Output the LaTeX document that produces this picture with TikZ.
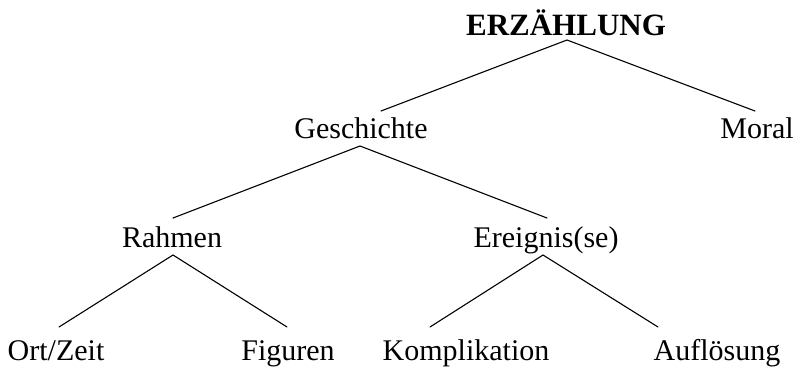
\documentclass[tikz,border=0pt]{standalone}
\usepackage{fontspec}
\setmainfont{Liberation Serif}
\begin{document}
\begin{tikzpicture}[x=1pt,y=-1pt,
  lbl/.style={anchor=base,inner sep=0pt,font=\fontsize{30}{36}\selectfont},
  edge/.style={line width=1.1pt,line cap=round}]
\useasboundingbox (0,0) rectangle (794,370);
% labels
\node[lbl,font=\fontsize{31}{36}\selectfont\bfseries] (erz) at (566,35) {ERZÄHLUNG};
\node[lbl] (ges) at (361,138) {Geschichte};
\node[lbl] (mor) at (757,138) {Moral};
\node[lbl] (rah) at (172,247) {Rahmen};
\node[lbl] (ere) at (546,247) {Ereignis(se)};
\node[lbl] (ort) at (56,360) {Ort/Zeit};
\node[lbl] (fig) at (288,360) {Figuren};
\node[lbl] (kom) at (466,360) {Komplikation};
\node[lbl] (auf) at (717,360) {Auflösung};
% connector ends
\coordinate (erzB) at (567,40);
\coordinate (gesT) at (381,111);
\coordinate (morT) at (755,111);
\coordinate (gesB) at (360,146);
\coordinate (rahT) at (173,218);
\coordinate (ereT) at (547,218);
\coordinate (rahB) at (173,255);
\coordinate (ortT) at (59,327);
\coordinate (figT) at (287,327);
\coordinate (ereB) at (543,255);
\coordinate (komT) at (430,327);
\coordinate (aufT) at (658,327);
% connectors
\draw[edge] (gesT) -- (erzB) -- (morT);
\draw[edge] (rahT) -- (gesB) -- (ereT);
\draw[edge] (ortT) -- (rahB) -- (figT);
\draw[edge] (komT) -- (ereB) -- (aufT);
\end{tikzpicture}
\end{document}
